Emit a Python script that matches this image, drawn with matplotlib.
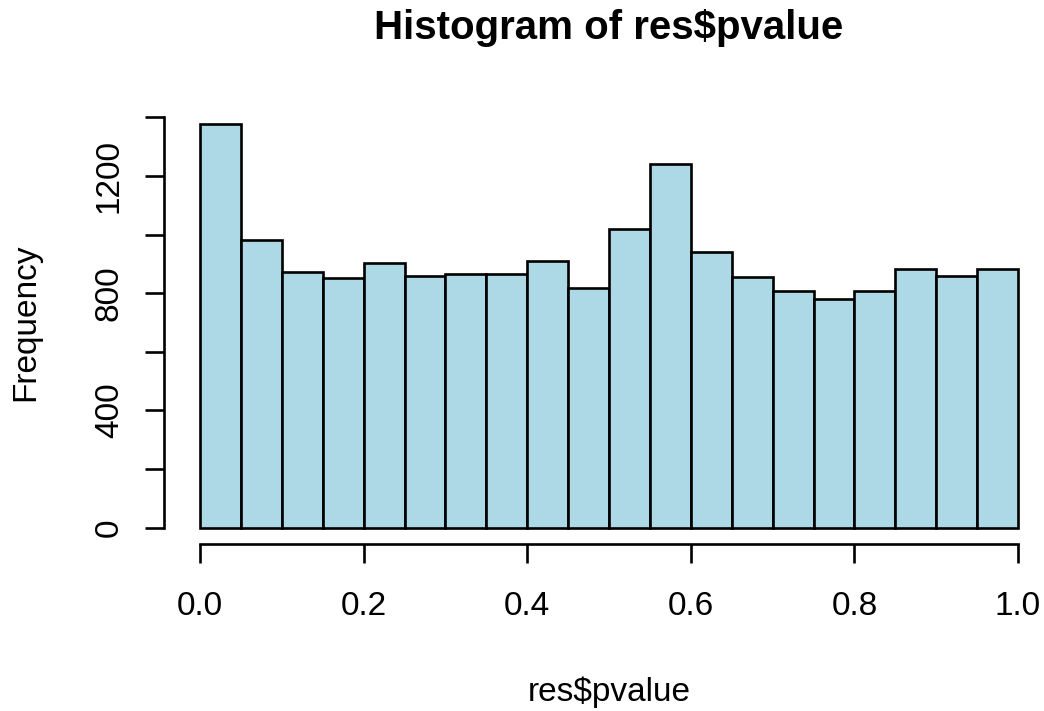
import numpy as np
import matplotlib
matplotlib.use('Agg')
import matplotlib.pyplot as plt

# histogram counts (20 bins of width 0.05)
breaks = np.linspace(0, 1, 21)
counts = [1377, 981, 873, 851, 902, 860, 866, 866, 910, 818,
          1018, 1241, 939, 855, 808, 780, 808, 881, 860, 881]
x_ticks = [0.0, 0.2, 0.4, 0.6, 0.8, 1.0]
x_labels = ['0.0', '0.2', '0.4', '0.6', '0.8', '1.0']
y_ticks = [0, 200, 400, 600, 800, 1000, 1200, 1400]
y_labels = ['0', '', '400', '', '800', '', '1200', '']

plt.rcParams['font.family'] = ['Liberation Sans', 'DejaVu Sans']

W, H = 1044, 711
fig = plt.figure(figsize=(W / 100, H / 100), dpi=100)
# plot region in pixels: x 0..1 -> 200..1018, y 0..1400 -> 527.7..117.3
ax = fig.add_axes([200 / W, (H - 527.7) / H, 818 / W, 410.4 / H])

lw = 1.9
ax.bar(breaks[:-1], counts, width=np.diff(breaks), align='edge',
       color='#ADD8E6', edgecolor='black', linewidth=lw, clip_on=False)

ax.set_xlim(0, 1)
ax.set_ylim(0, 1400)

for s in ['top', 'right']:
    ax.spines[s].set_visible(False)
ax.spines['left'].set_position(('outward', 25.6))
ax.spines['bottom'].set_position(('outward', 12))
ax.spines['left'].set_bounds(0, 1400)
ax.spines['bottom'].set_bounds(0, 1)
for s in ['left', 'bottom']:
    ax.spines[s].set_linewidth(lw)

ax.set_xticks(x_ticks)
ax.set_xticklabels(x_labels)
ax.set_yticks(y_ticks)
ax.set_yticklabels(y_labels, rotation=90, va='center')
ax.tick_params(axis='both', length=13.5, width=lw, labelsize=24, color='black')
ax.tick_params(axis='x', pad=20)
ax.tick_params(axis='y', pad=15)

ax.set_xlabel('res$pvalue', fontsize=24, va='center')
ax.xaxis.set_label_coords(0.5, (527.7 - 692) / 410.4)
ax.set_ylabel('Frequency', fontsize=24, va='center')
ax.yaxis.set_label_coords((26 - 200) / 818, 0.5)

fig.suptitle('Histogram of res$pvalue', fontsize=29, fontweight='bold',
             x=609 / W, y=1 - 28 / H, va='center')

fig.savefig('out.png', dpi=100)
